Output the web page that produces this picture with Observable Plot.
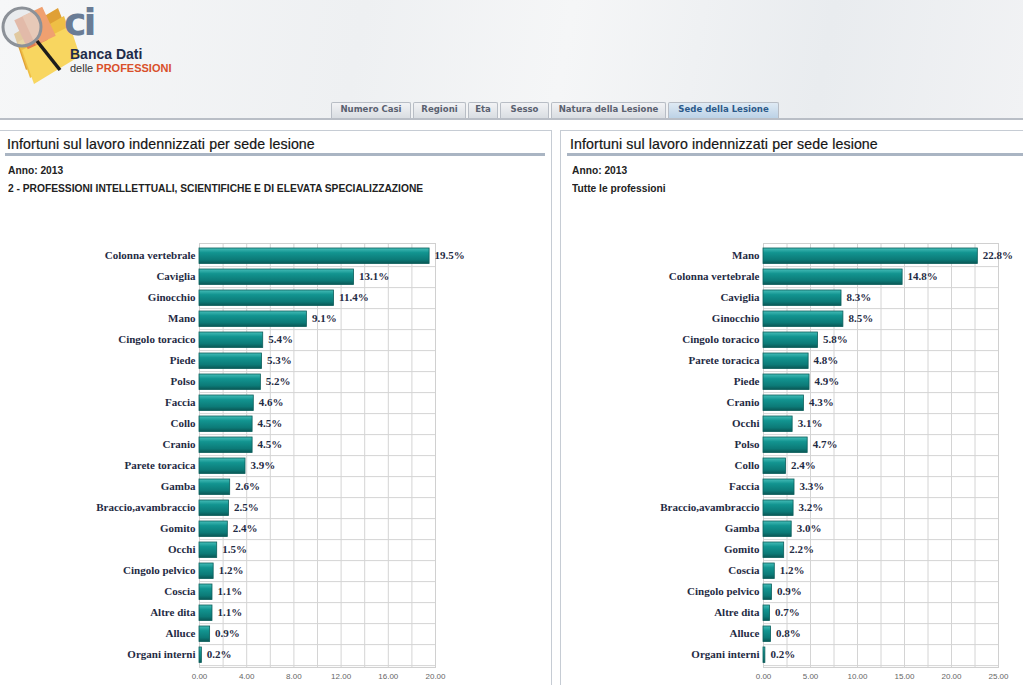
<!DOCTYPE html>
<html><head><meta charset="utf-8">
<script src="https://cdn.jsdelivr.net/npm/d3@7"></script>
<script src="https://cdn.jsdelivr.net/npm/@observablehq/plot@0.6"></script>
<style>
body{margin:0;width:1023px;height:685px;overflow:hidden;background:#fff;font-family:"Liberation Sans",Arial,sans-serif;position:relative}
#header{position:absolute;left:0;top:0;width:1023px;height:118px;background:linear-gradient(100deg,#f6f7f8 0%,#eef0f2 35%,#f5f6f7 55%,#e9ecef 80%,#f1f2f4 100%);border-bottom:2px solid #b9bec6}
.tab{position:absolute;top:102px;height:16px;line-height:16px;border:1px solid #b8bdc5;border-bottom:none;background:linear-gradient(#f2f3f5,#d9dde2);font:bold 9.5px "DejaVu Sans Condensed","DejaVu Sans",sans-serif;color:#5a6170;text-align:center;box-sizing:border-box;border-radius:2px 2px 0 0;white-space:nowrap;overflow:hidden}
.tab.active{background:linear-gradient(#dfeaf4,#bcd2e6);color:#2c5a8a}
.panel{position:absolute;top:130px;height:570px;border:1px solid #c6ccd4;box-sizing:border-box;background:#fff}
.ptitle{position:absolute;top:136px;font-size:14.2px;color:#151515;letter-spacing:0.1px;-webkit-text-stroke:0.2px #151515}
.pline{position:absolute;top:153px;height:3px;background:#aab5c3}
.sub{position:absolute;font-size:11px;color:#222;font-weight:bold;transform:scaleX(0.93);transform-origin:left}
.chart{position:absolute;top:200px}
</style></head>
<body>
<div id="header">
<svg width="200" height="95" style="position:absolute;left:0;top:0">
  <polygon points="14,34 58,8 72,44 26,70" fill="#e0a035"/>
  <polygon points="18,42 64,16 76,50 30,78" fill="#efbf45"/>
  <polygon points="22,50 70,26 80,56 34,84" fill="#f8d660"/>
  <rect x="20" y="14" width="22" height="32" fill="#e47c4c" transform="rotate(-25 31 30)"/>
  <rect x="28" y="10" width="22" height="32" fill="#f0a070" transform="rotate(-25 39 26)"/>
  <circle cx="22" cy="27" r="19" fill="rgba(225,228,232,0.6)" stroke="#8c9198" stroke-width="3"/>
  <line x1="37" y1="41" x2="60" y2="70" stroke="#1c1c1c" stroke-width="3.5"/>
  <text x="64" y="35" font-family="DejaVu Sans" font-weight="bold" font-size="38" fill="#6a7c95" letter-spacing="-3">ci</text>
  <text x="70" y="59" font-family="Liberation Sans" font-weight="bold" font-size="14" fill="#1e2c4a">Banca Dati</text>
  <text x="70" y="72" font-family="Liberation Sans" font-size="11" fill="#333">delle <tspan fill="#d9502a" font-weight="bold">PROFESSIONI</tspan></text>
</svg>
<div class="tab" style="left:331px;width:80px">Numero Casi</div>
<div class="tab" style="left:413px;width:53px">Regioni</div>
<div class="tab" style="left:468px;width:30px">Eta</div>
<div class="tab" style="left:500px;width:49px">Sesso</div>
<div class="tab" style="left:551px;width:115px">Natura della Lesione</div>
<div class="tab active" style="left:668px;width:111px">Sede della Lesione</div>
</div>
<div class="panel" style="left:-1px;width:553px"></div>
<div class="panel" style="left:560px;width:470px"></div>
<div class="ptitle" style="left:7px">Infortuni sul lavoro indennizzati per sede lesione</div>
<div class="pline" style="left:5px;width:540px"></div>
<div class="sub" style="left:8px;top:164px">Anno: 2013</div>
<div class="sub" style="left:8px;top:182px">2 - PROFESSIONI INTELLETTUALI, SCIENTIFICHE E DI ELEVATA SPECIALIZZAZIONE</div>
<div class="ptitle" style="left:570px">Infortuni sul lavoro indennizzati per sede lesione</div>
<div class="pline" style="left:567px;width:456px"></div>
<div class="sub" style="left:572px;top:164px">Anno: 2013</div>
<div class="sub" style="left:572px;top:182px">Tutte le professioni</div>
<div id="c1" class="chart" style="left:0px"></div>
<div id="c2" class="chart" style="left:560px"></div>
<script>
// Left chart: group 2 professions
const leftCategories = ["Colonna vertebrale","Caviglia","Ginocchio","Mano","Cingolo toracico","Piede","Polso","Faccia","Collo","Cranio","Parete toracica","Gamba","Braccio,avambraccio","Gomito","Occhi","Cingolo pelvico","Coscia","Altre dita","Alluce","Organi interni"];
const leftValues = [19.5,13.1,11.4,9.1,5.4,5.3,5.2,4.6,4.5,4.5,3.9,2.6,2.5,2.4,1.5,1.2,1.1,1.1,0.9,0.2];
const leftTickLabels = [0,4,8,12,16,20];
const leftGridTicks = [0,2,4,6,8,10,12,14,16,18,20];

// Right chart: all professions
const rightCategories = ["Mano","Colonna vertebrale","Caviglia","Ginocchio","Cingolo toracico","Parete toracica","Piede","Cranio","Occhi","Polso","Collo","Faccia","Braccio,avambraccio","Gamba","Gomito","Coscia","Cingolo pelvico","Altre dita","Alluce","Organi interni"];
const rightValues = [22.8,14.8,8.3,8.5,5.8,4.8,4.9,4.3,3.1,4.7,2.4,3.3,3.2,3.0,2.2,1.2,0.9,0.7,0.8,0.2];
const rightTickLabels = [0,5,10,15,20,25];
const rightGridTicks = [0,2.5,5,7.5,10,12.5,15,17.5,20,22.5,25];

function gradientDefs(id){
  return () => {
    const defs = d3.create("svg:defs");
    const g = defs.append("linearGradient").attr("id", id).attr("x1",0).attr("x2",0).attr("y1",0).attr("y2",1);
    g.append("stop").attr("offset","0%").attr("stop-color","#45bdb8");
    g.append("stop").attr("offset","30%").attr("stop-color","#129490");
    g.append("stop").attr("offset","75%").attr("stop-color","#0c7a77");
    g.append("stop").attr("offset","100%").attr("stop-color","#0a5755");
    return defs.node();
  };
}

function makeChart(cats, vals, domainMax, labels, grid, width, ml, mr, gid){
  const data = cats.map((c,i)=>({cat:c, v:vals[i]}));
  const height = 485, mt = 43, mb = 18;
  const step = (height - mt - mb) / cats.length;
  return Plot.plot({
    width, height, marginLeft: ml, marginRight: mr, marginTop: mt, marginBottom: mb,
    style:{background:"transparent", overflow:"visible"},
    x:{domain:[0,domainMax]},
    y:{domain:cats, padding:0},
    marks:[
      gradientDefs(gid),
      Plot.ruleX(grid, {stroke:"#d4d4d4", strokeWidth:1}),
      Plot.gridY({dy: step/2, stroke:"#d4d4d4", strokeOpacity:1}),
      Plot.frame({stroke:"#d0d0d0"}),
      Plot.barX(data, {x:"v", y:"cat", fill:`url(#${gid})`, stroke:"#0b5e5b", strokeWidth:0.8, insetTop:3, insetBottom:2.5}),
      Plot.text(data, {x:"v", y:"cat", text:d=>d.v.toFixed(1)+"%", dx:5, dy:-1, textAnchor:"start", fontFamily:"Liberation Serif", fontWeight:"bold", fontSize:11, fill:"#1f2b44"}),
      Plot.axisY({tickSize:0, tickPadding:4, dy:-1, label:null, fontFamily:"Liberation Serif", fontWeight:"bold", fontSize:11, fill:"#1f2b44"}),
      Plot.axisX(labels, {tickSize:0, tickPadding:6, label:null, tickFormat:d3.format(".2f"), fontSize:8, fontFamily:"Liberation Sans", fill:"#666"})
    ]
  });
}

document.getElementById("c1").append(makeChart(leftCategories, leftValues, 20, leftTickLabels, leftGridTicks, 545, 199, 110, "gradL"));
document.getElementById("c2").append(makeChart(rightCategories, rightValues, 25, rightTickLabels, rightGridTicks, 463, 203, 25, "gradR"));
</script>
</body></html>
